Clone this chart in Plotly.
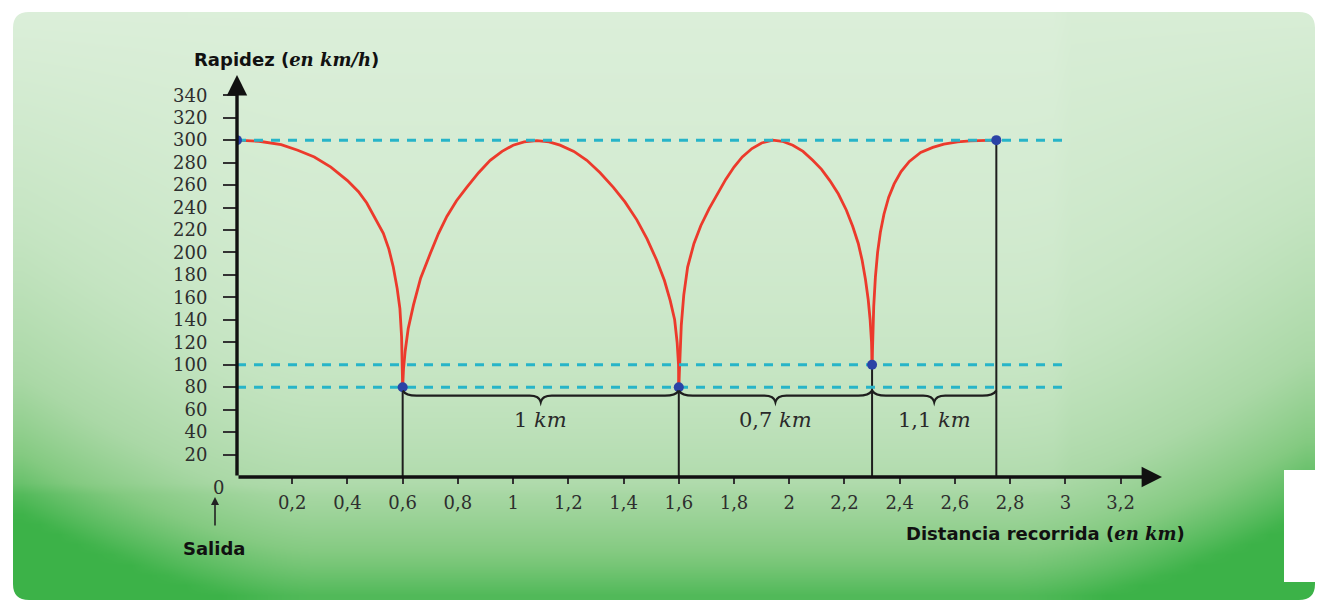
import plotly.graph_objects as go

# ---------------- data ----------------
seg1_x = [0.0, 0.08, 0.16, 0.22, 0.28, 0.34, 0.40, 0.44, 0.47, 0.50, 0.53, 0.55, 0.566, 0.58, 0.59, 0.596, 0.6]
seg1_y = [300, 299, 296, 291, 285, 276, 264, 254, 244, 231, 217, 203, 187, 168, 150, 125, 80]
seg2_x = [0.6, 0.603, 0.609, 0.62, 0.639, 0.665, 0.70, 0.73, 0.76, 0.795, 0.832, 0.875, 0.917, 0.96, 1.0, 1.04,
          1.086, 1.13, 1.17, 1.22, 1.267, 1.315, 1.363, 1.405, 1.448, 1.485, 1.52, 1.548, 1.569, 1.585, 1.594, 1.599, 1.6]
seg2_y = [80, 96, 112, 132, 153, 177, 199, 217, 232, 246, 258, 271, 282, 290, 295.5, 298.5,
          299.5, 298.5, 295.5, 290, 282, 271, 258, 245, 229, 212, 193, 175, 157, 140, 120, 100, 80]
seg3_x = [1.6, 1.603, 1.609, 1.618, 1.632, 1.655, 1.68, 1.71, 1.74, 1.77, 1.80, 1.83, 1.865, 1.90, 1.94, 1.975,
          2.013, 2.05, 2.085, 2.117, 2.147, 2.178, 2.207, 2.23, 2.25, 2.264, 2.276, 2.286, 2.293, 2.298, 2.3]
seg3_y = [80, 105, 135, 162, 187, 208, 224, 239, 252.5, 265, 276, 285, 292.5, 297.5, 300, 299,
          295.5, 290, 282, 274, 264, 252, 237.6, 223, 208, 193, 176, 158, 140, 120, 100]
seg4_x = [2.3, 2.302, 2.306, 2.312, 2.32, 2.33, 2.343, 2.36, 2.38, 2.405, 2.435, 2.476, 2.52, 2.56, 2.61, 2.656, 2.70, 2.75]
seg4_y = [100, 125, 152, 178, 200, 218, 234, 249, 261, 272, 281, 289, 293.5, 296.5, 298.5, 299.3, 299.8, 300]

key_x = [0.0, 0.6, 1.6, 2.3, 2.75]
key_y = [300, 80, 80, 100, 300]

ref_levels = [300, 100, 80]
ref_end_x = 3.0

stretch_bounds = [0.6, 1.6, 2.3, 2.75]
stretch_labels = ["1 <i>km</i>", "0,7 <i>km</i>", "1,1 <i>km</i>"]

x_tickvals = [0.2, 0.4, 0.6, 0.8, 1.0, 1.2, 1.4, 1.6, 1.8, 2.0, 2.2, 2.4, 2.6, 2.8, 3.0, 3.2]
x_ticktext = ["0,2", "0,4", "0,6", "0,8", "1", "1,2", "1,4", "1,6", "1,8", "2", "2,2", "2,4", "2,6", "2,8", "3", "3,2"]
y_tickvals = [20, 40, 60, 80, 100, 120, 140, 160, 180, 200, 220, 240, 260, 280, 300, 320, 340]

X_MAX = 3.35
Y_MAX = 358

# ---------------- page geometry (pixels) ----------------
W, H = 1323, 603
PL, PR, PT, PB = 237, 1162, 75, 477   # chart area edges


def px(x):
    return x / W


def py(y):
    return 1 - y / H


RED = "#ec3a2c"
CYAN = "#27b4c8"
BLUE = "#2b43a6"
INK = "#1e1e1e"
TICKFONT = dict(family="DejaVu Serif", size=18, color="#2e2e2e")

fig = go.Figure()

# ---------------- green panel background (smooth heatmap on its own full-page axes) ----------------
PX0, PX1, PY0, PY1 = 13, 1315, 12, 600
NC, NR = 72, 58
cw, ch = (PX1 - PX0) / NC, (PY1 - PY0) / NR
gx = [PX0 + cw * (i + 0.5) for i in range(NC)]
gy = [PY0 + ch * (j + 0.5) for j in range(NR)]
gz = []
for yy in gy:
    vy = (yy - PY0) / (PY1 - PY0)
    row = []
    for xx in gx:
        base = 0.05 + 0.3 * vy + 0.6 * vy ** 4
        el = max(0.0, 1 - (xx - PX0) / 300) ** 1.5
        er = max(0.0, 1 - (PX1 - xx) / 300) ** 1.5
        z = base + 0.45 * (el + er) * vy
        if xx < 1070 and yy < 492:
            z -= 0.04
        row.append(min(1.0, max(0.0, z)))
    gz.append(row)

green_scale = [[0.0, "rgb(220,239,218)"], [0.3, "rgb(196,228,193)"], [0.55, "rgb(170,216,166)"],
               [0.75, "rgb(132,202,129)"], [1.0, "rgb(60,178,72)"]]
fig.add_trace(go.Heatmap(x=gx, y=gy, z=gz, colorscale=green_scale, zmin=0, zmax=1, zsmooth="best",
                         showscale=False, hoverinfo="skip", xaxis="x", yaxis="y"))

# ---------------- chart traces (on x2/y2) ----------------
cx, cy = [], []
for sx, sy in [(seg1_x, seg1_y), (seg2_x, seg2_y), (seg3_x, seg3_y), (seg4_x, seg4_y)]:
    cx += sx + [None]
    cy += sy + [None]
fig.add_trace(go.Scatter(x=cx, y=cy, mode="lines", xaxis="x2", yaxis="y2",
                         line=dict(color=RED, width=2.8, shape="linear"),
                         connectgaps=False, hoverinfo="skip", showlegend=False))

vx, vy_ = [], []
for x, y in zip(key_x[1:], key_y[1:]):
    vx += [x, x, None]
    vy_ += [0, y, None]
fig.add_trace(go.Scatter(x=vx, y=vy_, mode="lines", xaxis="x2", yaxis="y2",
                         line=dict(color=INK, width=2), hoverinfo="skip", showlegend=False))

dx, dy = [], []
for lv in ref_levels:
    dx += [0, ref_end_x, None]
    dy += [lv, lv, None]
fig.add_trace(go.Scatter(x=dx, y=dy, mode="lines", xaxis="x2", yaxis="y2",
                         line=dict(color=CYAN, width=3, dash="9px,8px"),
                         hoverinfo="skip", showlegend=False))

fig.add_trace(go.Scatter(x=key_x, y=key_y, mode="markers", xaxis="x2", yaxis="y2",
                         marker=dict(color=BLUE, size=10), hoverinfo="skip", showlegend=False))

shapes = []

# torn white patch bottom right
shapes.append(dict(type="rect", xref="paper", yref="paper", layer="above",
                   x0=px(1284), x1=px(1323), y0=py(582), y1=py(470),
                   fillcolor="white", line=dict(width=0)))

# rounded corner masks
R = 16


def corner(xc, yc, sx, sy):
    p1 = (px(xc), py(yc))
    p2 = (px(xc + sx * R), py(yc))
    p3 = (px(xc), py(yc + sy * R))
    return "M %f,%f L %f,%f Q %f,%f %f,%f Z" % (p1[0], p1[1], p2[0], p2[1], p1[0], p1[1], p3[0], p3[1])


for xc, yc, sx, sy in [(PX0, PY0, 1, 1), (PX1, PY0, -1, 1), (PX0, PY1, 1, -1), (PX1, PY1, -1, -1)]:
    shapes.append(dict(type="path", xref="paper", yref="paper", layer="above",
                       path=corner(xc, yc, sx, sy), fillcolor="white", line=dict(width=0)))

# braces under the stretches
for a, b in zip(stretch_bounds[:-1], stretch_bounds[1:]):
    m = (a + b) / 2
    yt, yf, yd = 77, 72.5, 67
    path = (f"M {a},{yt} Q {a + 0.012},{yf} {a + 0.05},{yf} L {m - 0.04},{yf} "
            f"Q {m - 0.006},{yf} {m},{yd} Q {m + 0.006},{yf} {m + 0.04},{yf} "
            f"L {b - 0.05},{yf} Q {b - 0.012},{yf} {b},{yt}")
    shapes.append(dict(type="path", xref="x2", yref="y2", path=path,
                       line=dict(color=INK, width=2.4), layer="above"))

annotations = []

# axis arrows
annotations.append(dict(x=X_MAX, y=0, ax=0, ay=0, xref="x2", yref="y2", axref="x2", ayref="y2",
                        showarrow=True, arrowhead=2, arrowsize=1.2, arrowwidth=3.4,
                        arrowcolor="#111", text=""))
annotations.append(dict(x=0, y=Y_MAX, ax=0, ay=0, xref="x2", yref="y2", axref="x2", ayref="y2",
                        showarrow=True, arrowhead=2, arrowsize=1.2, arrowwidth=3.4,
                        arrowcolor="#111", text=""))

annotations.append(dict(x=px(218), y=py(487), xref="paper", yref="paper", text="0", showarrow=False,
                        font=TICKFONT, xanchor="center", yanchor="middle"))

for (a, b), lab in zip(zip(stretch_bounds[:-1], stretch_bounds[1:]), stretch_labels):
    annotations.append(dict(x=(a + b) / 2, y=51, xref="x2", yref="y2", text=lab, showarrow=False,
                            font=dict(family="DejaVu Serif", size=21, color="#2a2a2a")))

SANS = "DejaVu Sans"
ITAL = "font-family:'DejaVu Serif'"
annotations.append(dict(x=px(192), y=py(60), xref="paper", yref="paper", xanchor="left", yanchor="middle",
                        text=f"<b>Rapidez (</b><span style=\"{ITAL}\"><b><i>en km/h</i></b></span><b>)</b>",
                        showarrow=False, font=dict(family=SANS, size=18, color="#111")))
annotations.append(dict(x=px(1187), y=py(533), xref="paper", yref="paper", xanchor="right", yanchor="middle",
                        text=f"<b>Distancia recorrida (</b><span style=\"{ITAL}\"><b><i>en km</i></b></span><b>)</b>",
                        showarrow=False, font=dict(family=SANS, size=18, color="#111")))
annotations.append(dict(x=px(214), y=py(548), xref="paper", yref="paper", text="<b>Salida</b>",
                        showarrow=False, xanchor="center", yanchor="middle",
                        font=dict(family=SANS, size=18, color="#111")))
annotations.append(dict(x=px(215), y=py(497), xref="paper", yref="paper", ax=0, ay=30,
                        showarrow=True, arrowhead=2, arrowsize=1.0, arrowwidth=1.6,
                        arrowcolor="#222", text=""))

fig.update_layout(
    width=W, height=H, autosize=False,
    margin=dict(l=0, r=0, t=0, b=0, pad=0),
    paper_bgcolor="white", plot_bgcolor="rgba(0,0,0,0)",
    shapes=shapes, annotations=annotations, showlegend=False,
    xaxis=dict(domain=[0, 1], range=[0, W], visible=False, fixedrange=True),
    yaxis=dict(domain=[0, 1], range=[H, 0], visible=False, fixedrange=True),
    xaxis2=dict(domain=[PL / W, PR / W], anchor="y2", range=[0, X_MAX], showgrid=False,
                zeroline=False, showline=False,
                tickvals=x_tickvals, ticktext=x_ticktext, ticks="outside", ticklen=6,
                tickwidth=2, tickcolor="#333", tickfont=TICKFONT, ticklabelstandoff=3),
    yaxis2=dict(domain=[1 - PB / H, 1 - PT / H], anchor="x2", range=[0, Y_MAX], showgrid=False,
                zeroline=False, showline=False,
                tickvals=y_tickvals, ticks="outside", ticklen=13, tickwidth=2,
                tickcolor="#333", tickfont=TICKFONT, ticklabelstandoff=12),
)

fig.write_html("out.html", config={"displayModeBar": False},
               post_script="document.body.style.margin='0';document.body.style.overflow='hidden';")
